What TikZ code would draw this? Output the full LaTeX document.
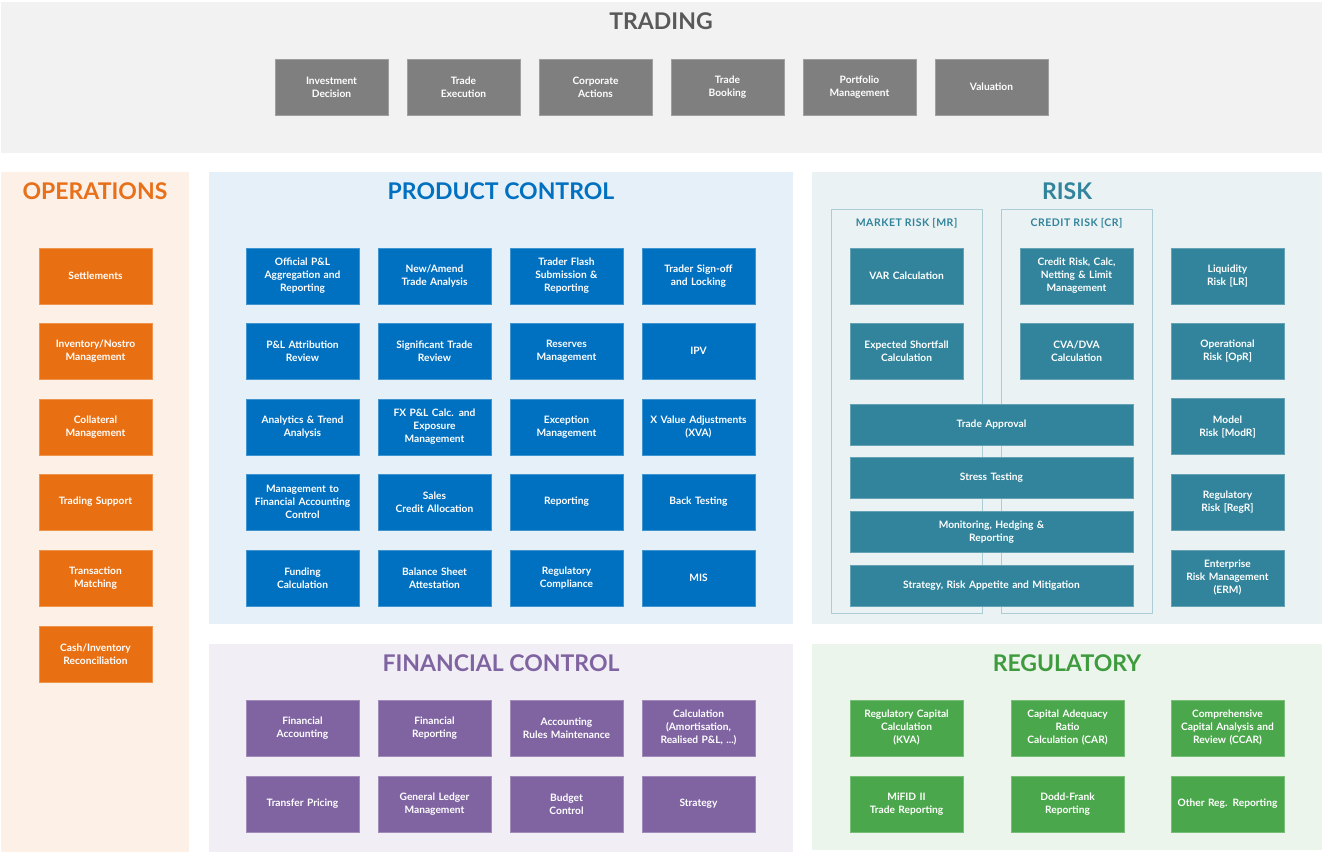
\documentclass[tikz,border=0pt]{standalone}
\usepackage{fontspec}
\setmainfont{Lato}
\definecolor{grayPanel}{HTML}{F2F2F2}
\definecolor{grayBox}{HTML}{7F7F7F}
\definecolor{grayTitle}{HTML}{595959}
\definecolor{orgPanel}{HTML}{FDF0E7}
\definecolor{orgBox}{HTML}{E97012}
\definecolor{orgTitle}{HTML}{E8701A}
\definecolor{bluPanel}{HTML}{E6F0F9}
\definecolor{bluBox}{HTML}{0070C0}
\definecolor{purPanel}{HTML}{F1EFF5}
\definecolor{purBox}{HTML}{8064A2}
\definecolor{tealPanel}{HTML}{EAF2F4}
\definecolor{tealBox}{HTML}{31849B}
\definecolor{tealFrame}{HTML}{ADCDD6}
\definecolor{grnPanel}{HTML}{ECF5EC}
\definecolor{grnBox}{HTML}{4BA74B}
\definecolor{grnTitle}{HTML}{3E9B3E}
\begin{document}
\begin{tikzpicture}[x=1pt,y=-1pt,
  boxbase/.style={rectangle, inner sep=0pt, minimum width=113pt, minimum height=56pt,
    align=center, text width=110pt, text=white, line width=0.8pt,
    font=\fontsize{10.2}{13}\selectfont\bfseries},
  graybox/.style={boxbase, fill=grayBox, draw=grayBox!75!white},
  orgbox/.style={boxbase, fill=orgBox, draw=orgBox!75!white},
  blubox/.style={boxbase, fill=bluBox, draw=bluBox!75!white},
  purbox/.style={boxbase, fill=purBox, draw=purBox!75!white},
  tealbox/.style={boxbase, fill=tealBox, draw=tealBox!75!white},
  widebox/.style={tealbox, minimum width=283pt, text width=270pt, minimum height=41pt},
  grnbox/.style={boxbase, fill=grnBox, draw=grnBox!75!white},
  paneltitle/.style={font=\fontsize{23}{25}\selectfont\bfseries, inner sep=0pt},
  framelabel/.style={font=\fontsize{10.5}{12}\selectfont\bfseries\addfontfeature{LetterSpace=5}, text=tealBox, inner sep=0pt},
  frameline/.style={draw=tealFrame, line width=1pt}
]
\useasboundingbox (0,0) rectangle (1323,852);
\fill[white] (0,0) rectangle (1323,852);
% panels
\fill[grayPanel] (1,2) rectangle (1322,153);
\fill[orgPanel] (1,172) rectangle (189,852);
\fill[bluPanel] (209,172) rectangle (793,624);
\fill[purPanel] (209,644) rectangle (793,852);
\fill[tealPanel] (812,172) rectangle (1322,624);
\fill[grnPanel] (812,644) rectangle (1322,850);
% titles
\node[paneltitle, text=grayTitle] (tTrading) at (661,21) {TRADING};
\node[paneltitle, text=orgTitle] (tOps) at (95,191) {OPERATIONS};
\node[paneltitle, text=bluBox] (tPC) at (501,191) {PRODUCT CONTROL};
\node[paneltitle, text=tealBox] (tRisk) at (1067,191) {RISK};
\node[paneltitle, text=purBox] (tFC) at (501,663) {FINANCIAL CONTROL};
\node[paneltitle, text=grnTitle] (tReg) at (1067,663) {REGULATORY};
% trading
\node[graybox] (tr1) at (331.5,87) {Investment\\Decision};
\node[graybox] (tr2) at (463.5,87) {Trade\\Execution};
\node[graybox] (tr3) at (595.5,87) {Corporate\\Actions};
\node[graybox] (tr4) at (727.5,87) {Trade\\Booking};
\node[graybox] (tr5) at (859.5,87) {Portfolio\\Management};
\node[graybox] (tr6) at (991.5,87) {Valuation};
% operations
\node[orgbox] (op1) at (95.5,276) {Settlements};
\node[orgbox] (op2) at (95.5,351) {Inventory/Nostro\\Management};
\node[orgbox] (op3) at (95.5,427) {Collateral\\Management};
\node[orgbox] (op4) at (95.5,502) {Trading Support};
\node[orgbox] (op5) at (95.5,578) {Transaction\\Matching};
\node[orgbox] (op6) at (95.5,654) {Cash/Inventory\\Reconciliation};
% product control
\node[blubox] (pc11) at (302.5,276) {Official P\&L\\Aggregation and\\Reporting};
\node[blubox] (pc12) at (434.5,276) {New/Amend\\Trade Analysis};
\node[blubox] (pc13) at (566.5,276) {Trader Flash\\Submission \&\\Reporting};
\node[blubox] (pc14) at (698.5,276) {Trader Sign-off\\and Locking};
\node[blubox] (pc21) at (302.5,351) {P\&L Attribution\\Review};
\node[blubox] (pc22) at (434.5,351) {Significant Trade\\Review};
\node[blubox] (pc23) at (566.5,351) {Reserves\\Management};
\node[blubox] (pc24) at (698.5,351) {IPV};
\node[blubox] (pc31) at (302.5,427) {Analytics \& Trend\\Analysis};
\node[blubox] (pc32) at (434.5,427) {FX P\&L Calc. and\\Exposure\\Management};
\node[blubox] (pc33) at (566.5,427) {Exception\\Management};
\node[blubox] (pc34) at (698.5,427) {X Value Adjustments\\(XVA)};
\node[blubox] (pc41) at (302.5,502) {Management to\\Financial Accounting\\Control};
\node[blubox] (pc42) at (434.5,502) {Sales\\Credit Allocation};
\node[blubox] (pc43) at (566.5,502) {Reporting};
\node[blubox] (pc44) at (698.5,502) {Back Testing};
\node[blubox] (pc51) at (302.5,578) {Funding\\Calculation};
\node[blubox] (pc52) at (434.5,578) {Balance Sheet\\Attestation};
\node[blubox] (pc53) at (566.5,578) {Regulatory\\Compliance};
\node[blubox] (pc54) at (698.5,578) {MIS};
% financial control
\node[purbox] (fc11) at (302.5,728) {Financial\\Accounting};
\node[purbox] (fc12) at (434.5,728) {Financial\\Reporting};
\node[purbox] (fc13) at (566.5,728) {Accounting\\Rules Maintenance};
\node[purbox] (fc14) at (698.5,728) {Calculation\\(Amortisation,\\Realised P\&L, ...)};
\node[purbox] (fc21) at (302.5,804) {Transfer Pricing};
\node[purbox] (fc22) at (434.5,804) {General Ledger\\Management};
\node[purbox] (fc23) at (566.5,804) {Budget\\Control};
\node[purbox] (fc24) at (698.5,804) {Strategy};
% risk frames
\draw[frameline] (831,209) rectangle (982,613);
\draw[frameline] (1001,209) rectangle (1152,613);
\node[framelabel] (lMR) at (906.5,223) {MARKET RISK [MR]};
\node[framelabel] (lCR) at (1076.5,223) {CREDIT RISK [CR]};
% risk boxes
\node[tealbox] (rk1) at (906.5,276) {VAR Calculation};
\node[tealbox] (rk2) at (906.5,351) {Expected Shortfall\\Calculation};
\node[tealbox] (rk3) at (1076.5,276) {Credit Risk, Calc,\\Netting \& Limit\\Management};
\node[tealbox] (rk4) at (1076.5,351) {CVA/DVA\\Calculation};
\node[widebox] (rw1) at (991.5,424.5) {Trade Approval};
\node[widebox] (rw2) at (991.5,478) {Stress Testing};
\node[widebox] (rw3) at (991.5,532) {Monitoring, Hedging \&\\Reporting};
\node[widebox] (rw4) at (991.5,586) {Strategy, Risk Appetite and Mitigation};
\node[tealbox] (rr1) at (1227.5,276) {Liquidity\\Risk [LR]};
\node[tealbox] (rr2) at (1227.5,351) {Operational\\Risk [OpR]};
\node[tealbox] (rr3) at (1227.5,426.5) {Model\\Risk [ModR]};
\node[tealbox] (rr4) at (1227.5,502) {Regulatory\\Risk [RegR]};
\node[tealbox] (rr5) at (1227.5,578) {Enterprise\\Risk Management\\(ERM)};
% regulatory
\node[grnbox] (rg11) at (906.5,728) {Regulatory Capital\\Calculation\\(KVA)};
\node[grnbox] (rg12) at (1067.5,728) {Capital Adequacy\\Ratio\\Calculation (CAR)};
\node[grnbox] (rg13) at (1227.5,728) {Comprehensive\\Capital Analysis and\\Review (CCAR)};
\node[grnbox] (rg21) at (906.5,804) {MiFID II\\Trade Reporting};
\node[grnbox] (rg22) at (1067.5,804) {Dodd-Frank\\Reporting};
\node[grnbox] (rg23) at (1227.5,804) {Other Reg. Reporting};
\end{tikzpicture}
\end{document}
